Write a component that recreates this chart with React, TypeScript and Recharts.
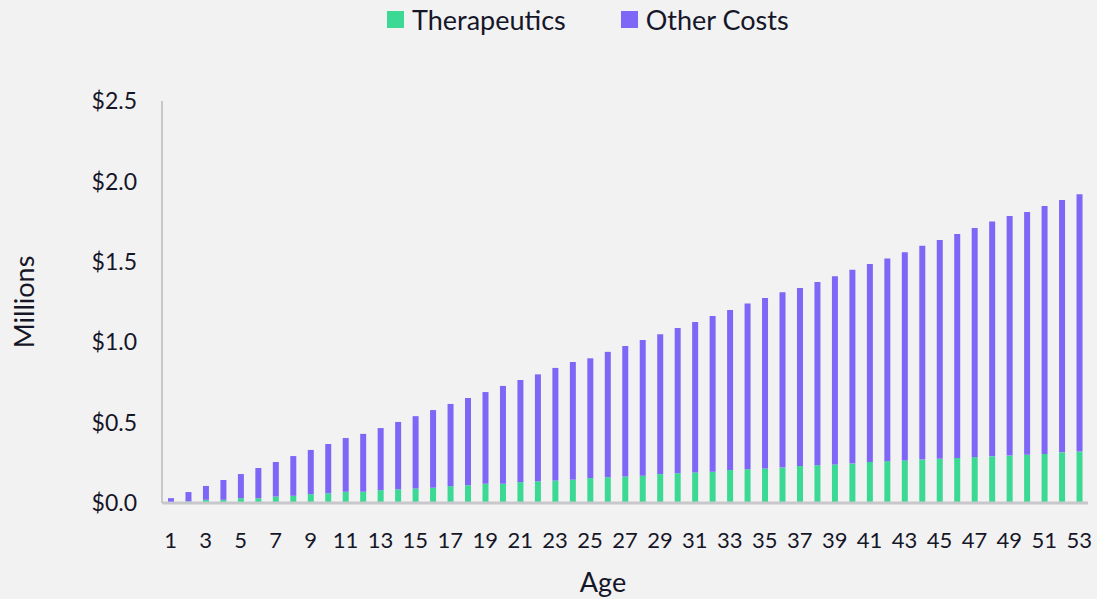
import React from 'react';
import { BarChart, Bar, XAxis, YAxis } from 'recharts';

// ages 1..53
const ages = [
  1, 2, 3, 4, 5, 6, 7, 8, 9, 10, 11, 12, 13, 14, 15, 16, 17, 18, 19, 20,
  21, 22, 23, 24, 25, 26, 27, 28, 29, 30, 31, 32, 33, 34, 35, 36, 37, 38, 39, 40,
  41, 42, 43, 44, 45, 46, 47, 48, 49, 50, 51, 52, 53,
];

// cumulative cost, $ millions
const therapeutics = [
  0.005, 0.01, 0.02, 0.02, 0.03, 0.03, 0.04, 0.045, 0.055, 0.06,
  0.07, 0.07, 0.08, 0.085, 0.09, 0.095, 0.105, 0.11, 0.12, 0.12,
  0.13, 0.135, 0.14, 0.145, 0.155, 0.16, 0.165, 0.17, 0.18, 0.185,
  0.19, 0.195, 0.205, 0.21, 0.215, 0.22, 0.23, 0.235, 0.24, 0.245,
  0.255, 0.26, 0.265, 0.27, 0.275, 0.28, 0.285, 0.29, 0.295, 0.3,
  0.305, 0.315, 0.32,
];

const otherCosts = [
  0.025, 0.058, 0.086, 0.123, 0.15, 0.188, 0.215, 0.247, 0.275, 0.307,
  0.334, 0.36, 0.386, 0.419, 0.45, 0.483, 0.511, 0.543, 0.57, 0.608,
  0.635, 0.665, 0.7, 0.732, 0.745, 0.78, 0.811, 0.844, 0.87, 0.903,
  0.936, 0.968, 0.995, 1.03, 1.06, 1.09, 1.107, 1.139, 1.17, 1.205,
  1.231, 1.26, 1.295, 1.33, 1.36, 1.393, 1.425, 1.46, 1.49, 1.51,
  1.542, 1.569, 1.6,
];

const yTicks = [0, 0.5, 1, 1.5, 2, 2.5];

const GREEN = '#3bd993';
const PURPLE = '#7e67f6';
const AXIS = '#c8c8cc';
const TEXT = '#161629';
const FONT = 'Lato, "Open Sans", sans-serif';

const data = ages.map((age, i) => ({
  age,
  therapeutics: therapeutics[i],
  other: otherCosts[i],
}));

const legendItems = [
  { name: 'Therapeutics', color: GREEN },
  { name: 'Other Costs', color: PURPLE },
];

const App = () => {
  return (
    <div style={{ position: 'absolute', left: 0, top: 0, width: 1097, height: 599, background: '#f2f2f2', fontFamily: FONT }}>
      {/* legend drawn on top, centered over the chart */}
      <div style={{ position: 'absolute', top: 3, left: 387, display: 'flex', alignItems: 'center', color: TEXT, fontSize: 27 }}>
        {legendItems.map((it, i) => (
          <div key={it.name} style={{ display: 'flex', alignItems: 'center', marginRight: i === 0 ? 55 : 0 }}>
            <span style={{ width: 17, height: 17, background: it.color, display: 'inline-block', marginRight: 8 }} />
            <span>{it.name}</span>
          </div>
        ))}
      </div>
      <BarChart
        width={1097}
        height={599}
        data={data}
        margin={{ top: 101, right: 9, left: 92, bottom: 0 }}
      >
        <XAxis
          dataKey="age"
          interval={1}
          tickLine={false}
          tickSize={0}
          tickMargin={29}
          height={96}
          axisLine={{ stroke: AXIS, strokeWidth: 3 }}
          tick={{ fill: TEXT, fontSize: 22, fontFamily: FONT }}
          label={{
            content: (p: any) => (
              <text x={603} y={p.viewBox.y + 89} textAnchor="middle" fill={TEXT} fontSize={27} fontFamily={FONT}>
                Age
              </text>
            ),
          }}
        />
        <YAxis
          width={70}
          domain={[0, 2.5]}
          ticks={yTicks}
          tickLine={false}
          tickSize={0}
          tickMargin={25}
          axisLine={{ stroke: AXIS, strokeWidth: 2 }}
          tickFormatter={(v: number) => `$${v.toFixed(1)}`}
          tick={{ fill: TEXT, fontSize: 23, fontFamily: FONT }}
          label={{
            content: (p: any) => {
              const cy = p.viewBox.y + p.viewBox.height / 2;
              return (
                <text x={23} y={cy} transform={`rotate(-90 23 ${cy})`} textAnchor="middle" dominantBaseline="central" fill={TEXT} fontSize={27} fontFamily={FONT}>
                  Millions
                </text>
              );
            },
          }}
        />
        <Bar dataKey="therapeutics" stackId="a" fill={GREEN} barSize={6} isAnimationActive={false} />
        <Bar dataKey="other" stackId="a" fill={PURPLE} barSize={6} isAnimationActive={false} />
      </BarChart>
    </div>
  );
};

export default App;
